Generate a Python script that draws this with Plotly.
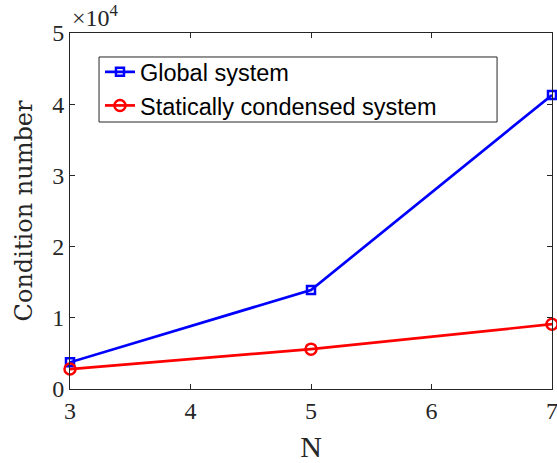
import plotly.graph_objects as go

N = [3, 5, 7]
global_cond = [3750, 13900, 41300]
condensed_cond = [2800, 5600, 9100]
y_tickvals = [0, 10000, 20000, 30000, 40000, 50000]
y_ticktext = ["0", "1", "2", "3", "4", "5"]
x_tickvals = [3, 4, 5, 6, 7]

fig = go.Figure()
fig.add_trace(go.Scatter(
    x=N, y=global_cond, mode="lines+markers", name="Global system",
    line=dict(color="#0000ff", width=2.7),
    marker=dict(symbol="square-open", size=8, color="#0000ff", line=dict(width=2.5, color="#0000ff")),
    cliponaxis=False,
))
fig.add_trace(go.Scatter(
    x=N, y=condensed_cond, mode="lines+markers", name="Statically condensed system",
    line=dict(color="#ff0000", width=2.7),
    marker=dict(symbol="circle-open", size=11, color="#ff0000", line=dict(width=2.5, color="#ff0000")),
    cliponaxis=False,
))

axis_common = dict(
    showline=True, linecolor="#262626", linewidth=1, mirror="ticks",
    ticks="inside", ticklen=5, tickcolor="#262626", showgrid=False, zeroline=False,
    tickfont=dict(family="Liberation Serif", size=24, color="#262626"),
    automargin=False, ticklabeloverflow="allow",
)
fig.update_xaxes(range=[3, 7], tickvals=x_tickvals,
                 title=dict(text="N", font=dict(family="Liberation Serif", size=30, color="#262626"), standoff=13),
                 **axis_common)
fig.update_yaxes(range=[0, 50000], tickvals=y_tickvals, ticktext=y_ticktext,
                 title=dict(text="Condition number", font=dict(family="DejaVu Serif", size=24, color="#262626"), standoff=12),
                 **axis_common)

fig.add_annotation(xref="paper", yref="paper", x=0.0, y=1.0, xanchor="left", yanchor="bottom",
                   text="×10<sup>4</sup>", showarrow=False, yshift=0,
                   font=dict(family="Liberation Serif", size=24, color="#262626"))

# legend frame
fig.add_shape(type="rect", xref="paper", yref="paper",
              x0=0.0602, x1=0.886, y0=0.75, y1=0.9326,
              line=dict(color="#262626", width=1), fillcolor="white", layer="above")

fig.update_layout(
    width=557, height=463,
    margin=dict(l=70, r=5, t=33, b=74),
    plot_bgcolor="white", paper_bgcolor="white",
    legend=dict(x=0.0622, y=0.952, xanchor="left", yanchor="top",
                borderwidth=0, bgcolor="rgba(0,0,0,0)",
                font=dict(family="Liberation Sans", size=23.5, color="black"),
                tracegroupgap=0, itemwidth=30),
    showlegend=True,
)
fig.write_html("out.html", config={"displayModeBar": False},
               post_script="document.body.style.margin='0';document.body.style.overflow='hidden';")
